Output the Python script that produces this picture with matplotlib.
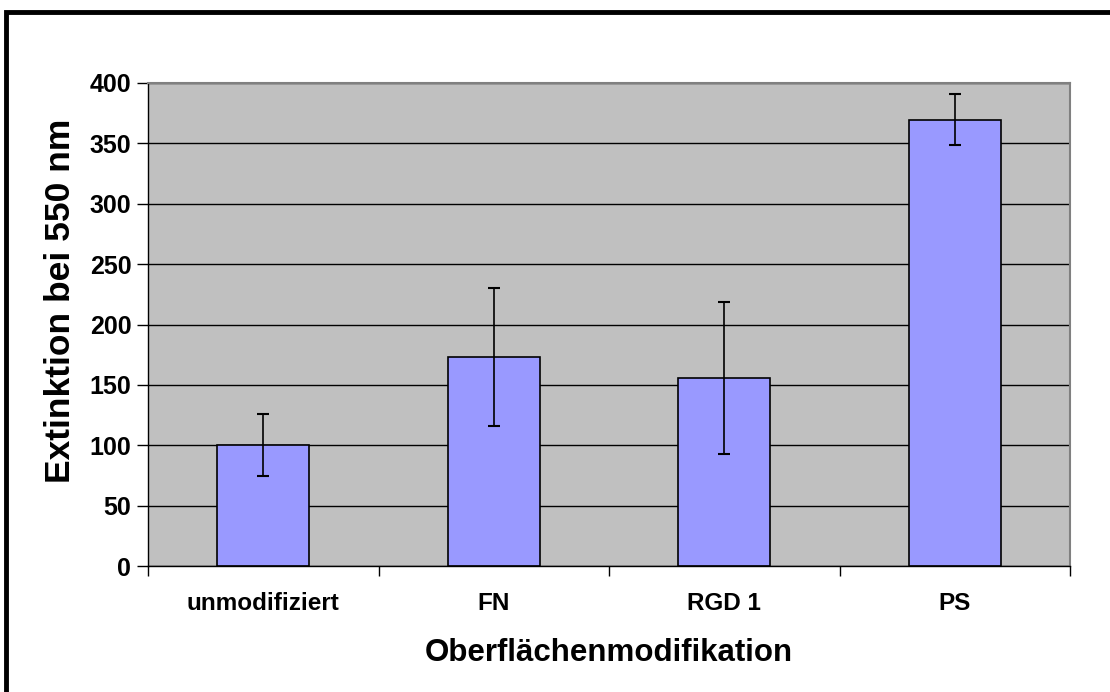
import matplotlib
matplotlib.use("Agg")
import matplotlib.pyplot as plt
from matplotlib.patches import Rectangle

categories = ["unmodifiziert", "FN", "RGD 1", "PS"]
values = [100, 173, 156, 369.5]
errors = [25.5, 57, 63, 21]
y_ticks = [0, 50, 100, 150, 200, 250, 300, 350, 400]

plt.rcParams["font.family"] = ["Liberation Sans", "DejaVu Sans"]
plt.rcParams["font.weight"] = "bold"

fig = plt.figure(figsize=(11.1, 6.92), dpi=100)
ax = fig.add_axes([148 / 1110, 1 - 566 / 692, (1070 - 148) / 1110, (566 - 83) / 692])

ax.set_facecolor("#C0C0C0")
ax.set_axisbelow(True)
ax.yaxis.grid(True, color="black", lw=1.0)

x = range(len(categories))
ax.bar(x, values, width=0.4, color="#9999FF", edgecolor="black", lw=1.2, zorder=2)
ax.errorbar(x, values, yerr=errors, fmt="none", ecolor="black", elinewidth=1.2,
            capsize=4.5, capthick=1.5, zorder=3)

ax.set_xlim(-0.5, len(categories) - 0.5)
ax.set_ylim(0, 400)
ax.set_yticks(y_ticks)
ax.set_yticklabels([str(v) for v in y_ticks], fontsize=18, fontweight="bold")

# Kategorien zwischen den Teilstrichen
ax.set_xticks([i - 0.5 for i in range(len(categories) + 1)])
ax.set_xticklabels([])
ax.set_xticks(list(x), minor=True)
ax.set_xticklabels(categories, minor=True, fontsize=17.5, fontweight="bold")
ax.tick_params(axis="x", which="major", direction="out", length=7, width=1, color="black")
ax.tick_params(axis="x", which="minor", length=0, pad=19)
ax.tick_params(axis="y", direction="out", length=8, width=1, color="black", pad=4)

for side in ["top", "right"]:
    ax.spines[side].set_color("#808080")
    ax.spines[side].set_linewidth(1.5)
for side in ["left", "bottom"]:
    ax.spines[side].set_color("black")
    ax.spines[side].set_linewidth(1.0)

ax.set_xlabel("Oberflächenmodifikation", fontsize=22.5, fontweight="bold", labelpad=16)
ax.set_ylabel("Extinktion bei 550 nm", fontsize=25.5, fontweight="bold")
ax.yaxis.set_label_coords(-0.077, 0.549)

# dicker Rahmen um das ganze Diagramm
fig.patches.append(Rectangle((6 / 1110, -0.05), 1.2, 1 - 12 / 692 + 0.05,
                             transform=fig.transFigure, fill=False,
                             edgecolor="black", lw=3.5))

fig.savefig("out.png", dpi=100)
